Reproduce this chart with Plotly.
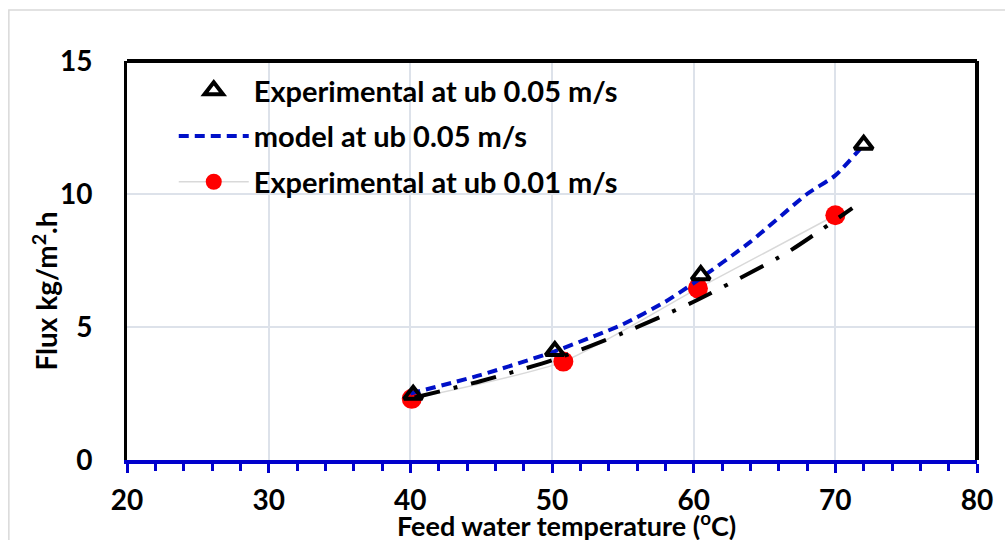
import plotly.graph_objects as go

# ---- data ----
temp_exp_005 = [40.2, 50.2, 60.5, 72.0]
flux_exp_005 = [2.45, 4.1, 6.95, 11.85]

temp_model_005 = [40, 45, 50, 55, 58, 60, 64, 68, 70, 72]
flux_model_005 = [2.5, 3.2, 4.05, 5.1, 5.95, 6.65, 8.2, 10.0, 10.7, 11.85]

temp_exp_001 = [40.1, 50.8, 60.3, 70.0]
flux_exp_001 = [2.3, 3.7, 6.45, 9.2]

temp_model_001 = [40.3, 45, 50, 55, 60, 66.6, 71.2]
flux_model_001 = [2.35, 2.97, 3.75, 4.77, 5.95, 7.8, 9.47]

x_ticks = [20, 30, 40, 50, 60, 70, 80]
y_ticks = [0, 5, 10, 15]

FONT = "Lato"

fig = go.Figure()

fig.add_trace(go.Scatter(
    x=temp_exp_001, y=flux_exp_001, mode="lines+markers",
    name="Experimental at ub 0.01 m/s", legendgroup="c", legendrank=3,
    line=dict(color="#D9D9D9", width=1.5, shape="spline", smoothing=0.6),
    marker=dict(symbol="circle", size=20, color="#FF0000"),
))
fig.add_trace(go.Scatter(
    x=temp_model_001, y=flux_model_001, mode="lines",
    name="model at ub 0.01 m/s", showlegend=False, legendgroup="d", legendrank=4,
    line=dict(color="black", width=4, dash="26px,14px,4px,14px", shape="spline", smoothing=0.6),
))
fig.add_trace(go.Scatter(
    x=temp_model_005, y=flux_model_005, mode="lines",
    name="model at ub 0.05 m/s", legendgroup="b", legendrank=2,
    line=dict(color="#0010C8", width=4, dash="10px,6px", shape="spline", smoothing=0.6),
))
fig.add_trace(go.Scatter(
    x=temp_exp_005, y=flux_exp_005, mode="markers",
    name="Experimental at ub 0.05 m/s", legendgroup="a", legendrank=1,
    marker=dict(symbol="triangle-up-open", size=16, color="black", line=dict(width=4, color="black")),
))

fig.update_layout(
    width=1005, height=540,
    margin=dict(l=127, r=22, t=61, b=80),
    paper_bgcolor="white", plot_bgcolor="white",
    font=dict(family=FONT, size=22, color="black"),
    showlegend=True,
    legend=dict(
        x=0.055, y=0.99, xanchor="left", yanchor="top",
        bgcolor="rgba(0,0,0,0)", traceorder="grouped",
        font=dict(family=FONT, size=29, color="black", weight="bold"),
        itemwidth=70, tracegroupgap=5,
    ),
    xaxis=dict(
        range=[20, 80], tickvals=x_ticks, ticktext=[str(v) for v in x_ticks],
        showgrid=True, gridcolor="#DDE2EA", gridwidth=1.5,
        showline=True, linecolor="#0000CC", linewidth=4,
        ticks="outside", ticklen=9, tickwidth=3, tickcolor="#0000CC",
        minor=dict(dtick=2, ticks="outside", ticklen=7, tickwidth=3, tickcolor="#0000CC", showgrid=False),
        tickfont=dict(family=FONT, size=28, color="black", weight="bold"),
        ticklabelstandoff=3,
        zeroline=False,
    ),
    yaxis=dict(
        range=[0, 15], tickvals=y_ticks, ticktext=[str(v) for v in y_ticks],
        showgrid=True, gridcolor="#DDE2EA", gridwidth=1.5,
        showline=True, linecolor="black", linewidth=3,
        ticks="outside", ticklen=26, tickcolor="rgba(0,0,0,0)",
        tickfont=dict(family=FONT, size=28, color="black", weight="bold"),
        zeroline=False,
    ),
)

# axis titles
fig.add_annotation(text="Feed water temperature (<sup>o</sup>C)", xref="paper", yref="paper",
                   x=(570 - 127) / 856, y=(460 - 524) / 399, xanchor="center", yanchor="middle",
                   showarrow=False, font=dict(family=FONT, size=27, color="black", weight="bold"))
fig.add_annotation(text="Flux kg/m<sup>2</sup>.h", xref="paper", yref="paper",
                   x=(44 - 127) / 856, y=(460 - 291) / 399, xanchor="center", yanchor="middle",
                   textangle=-90, showarrow=False,
                   font=dict(family=FONT, size=28, color="black", weight="bold"))

# plot frame: black top and right border
fig.add_shape(type="line", xref="paper", yref="paper", x0=0, x1=1, y0=1, y1=1,
              line=dict(color="black", width=4))
fig.add_shape(type="line", xref="paper", yref="paper", x0=1, x1=1, y0=0, y1=1,
              line=dict(color="black", width=4))
# outer chart border (light gray)
fig.add_shape(type="rect", xref="paper", yref="paper", x0=-0.139, x1=1.2, y0=-0.4, y1=1.128,
              line=dict(color="#D9D9D9", width=1.5), fillcolor="rgba(0,0,0,0)", layer="below")

fig.write_html("out.html")
